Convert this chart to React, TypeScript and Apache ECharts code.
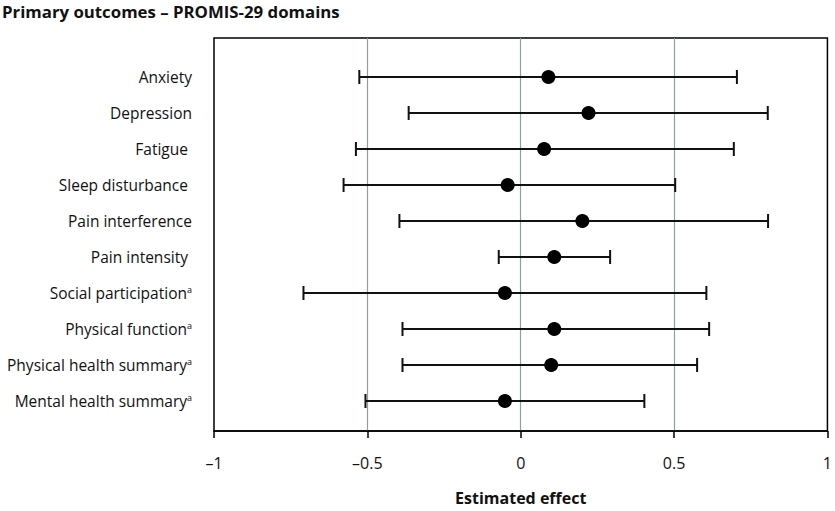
import React, { useEffect, useRef } from "react";
import * as echarts from "echarts";

const outcomes = [
  "Anxiety",
  "Depression",
  "Fatigue ",
  "Sleep disturbance ",
  "Pain interference",
  "Pain intensity ",
  "Social participation",
  "Physical function",
  "Physical health summary",
  "Mental health summary",
];
const footnoted = [false, false, false, false, false, false, true, true, true, true];
const estimates = [0.084, 0.214, 0.07, -0.048, 0.194, 0.103, -0.057, 0.103, 0.093, -0.057];
const lower = [-0.529, -0.369, -0.54, -0.58, -0.399, -0.077, -0.71, -0.389, -0.389, -0.509];
const upper = [0.695, 0.795, 0.685, 0.495, 0.796, 0.284, 0.596, 0.605, 0.566, 0.395];
const xTicks = [-1, -0.5, 0, 0.5, 1];

const FONT = "'Open Sans', 'Noto Sans', sans-serif";

export default function App() {
  const ref = useRef<HTMLDivElement>(null);
  useEffect(() => {
    if (!ref.current) return;
    const chart = echarts.init(ref.current, null, { renderer: "svg" });
    const grey = "#8f9f9f";
    const option: any = {
      animation: false,
      backgroundColor: "#ffffff",
      title: {
        text: "Primary outcomes – PROMIS-29 domains",
        left: 0,
        top: 3,
        padding: [0, 0, 0, 2],
        textStyle: { fontFamily: FONT, fontSize: 16.8, fontWeight: "bold", color: "#111111" },
      },
      grid: [
        {
          left: 214,
          right: 4,
          top: 38,
          bottom: 73,
          show: true,
          borderColor: "#000000",
          borderWidth: 1.5,
          backgroundColor: "transparent",
        },
        { left: 214, right: 4, top: 77, bottom: 110 },
      ],
      xAxis: [
        {
          gridIndex: 0,
          type: "value",
          min: xTicks[0],
          max: xTicks[xTicks.length - 1],
          interval: 0.5,
          axisLine: { show: true, lineStyle: { color: "#000000", width: 1.5 } },
          axisTick: { show: true, length: 7, lineStyle: { color: "#000000", width: 1.5 } },
          splitLine: {
            show: true,
            lineStyle: {
              color: ["rgba(0,0,0,0)", grey, grey, grey, "rgba(0,0,0,0)"],
              width: 1.2,
            },
          },
          axisLabel: {
            fontFamily: FONT,
            fontSize: 16,
            color: "#111111",
            margin: 24,
            formatter: (v: number) => String(v).replace("-", "–"),
          },
          name: "Estimated effect",
          nameLocation: "middle",
          nameGap: 59,
          nameTextStyle: { fontFamily: FONT, fontSize: 16, fontWeight: "bold", color: "#111111" },
        },
        {
          gridIndex: 1,
          type: "value",
          min: -1,
          max: 1,
          show: false,
        },
      ],
      yAxis: [
        {
          gridIndex: 0,
          type: "value",
          min: 0,
          max: 1,
          show: false,
        },
        {
          gridIndex: 1,
          type: "value",
          min: 0,
          max: outcomes.length - 1,
          interval: 1,
          inverse: true,
          axisLine: { show: false },
          axisTick: { show: false },
          splitLine: { show: false },
          axisLabel: {
            margin: 22,
            formatter: (v: number) => {
              const i = Math.round(v);
              const name = outcomes[i] || "";
              return footnoted[i] ? `{n|${name}}{s|a}` : `{n|${name}}`;
            },
            rich: {
              n: { fontFamily: FONT, fontSize: 15.5, color: "#111111" },
              s: { fontFamily: FONT, fontSize: 9, color: "#111111", verticalAlign: "top", padding: [0, 0, 6, 0] },
            },
          },
        },
      ],
      series: [
        {
          type: "custom",
          xAxisIndex: 1,
          yAxisIndex: 1,
          data: outcomes.map((_, i) => [lower[i], upper[i], i]),
          encode: { x: [0, 1], y: 2 },
          renderItem: (params: any, api: any) => {
            const lo = api.coord([api.value(0), api.value(2)]);
            const hi = api.coord([api.value(1), api.value(2)]);
            const cap = 7;
            const style = { stroke: "#111111", lineWidth: 2 };
            return {
              type: "group",
              children: [
                { type: "line", shape: { x1: lo[0], y1: lo[1], x2: hi[0], y2: hi[1] }, style },
                { type: "line", shape: { x1: lo[0], y1: lo[1] - cap, x2: lo[0], y2: lo[1] + cap }, style },
                { type: "line", shape: { x1: hi[0], y1: hi[1] - cap, x2: hi[0], y2: hi[1] + cap }, style },
              ],
            };
          },
          z: 3,
        },
        {
          type: "scatter",
          xAxisIndex: 1,
          yAxisIndex: 1,
          symbol: "circle",
          symbolSize: 14,
          itemStyle: { color: "#000000", opacity: 1 },
          data: estimates.map((v, i) => [v, i]),
          z: 4,
        },
      ],
    };
    chart.setOption(option);
    return () => chart.dispose();
  }, []);
  return <div ref={ref} style={{ width: 835, height: 511, position: "absolute", left: 0, top: 0 }} />;
}
